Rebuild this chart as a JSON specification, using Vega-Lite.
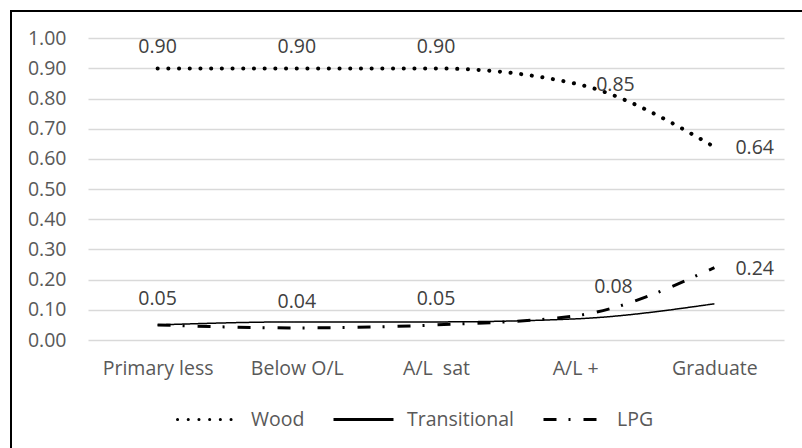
{
  "$schema": "https://vega.github.io/schema/vega-lite/v6.json",
  "width": 795,
  "height": 441,
  "autosize": {"type": "none"},
  "padding": {"left": 11, "top": 11, "right": -4, "bottom": -4},
  "config": {
    "view": {"stroke": "#000000", "strokeWidth": 2},
    "font": "Open Sans"
  },
  "data": {
    "values": [
      {"level": "Primary less", "series": "Wood", "value": 0.90},
      {"level": "Below O/L", "series": "Wood", "value": 0.90},
      {"level": "A/L \u00a0sat", "series": "Wood", "value": 0.90},
      {"level": "A/L +", "series": "Wood", "value": 0.85},
      {"level": "Graduate", "series": "Wood", "value": 0.64},
      {"level": "Primary less", "series": "Transitional", "value": 0.05},
      {"level": "Below O/L", "series": "Transitional", "value": 0.06},
      {"level": "A/L \u00a0sat", "series": "Transitional", "value": 0.06},
      {"level": "A/L +", "series": "Transitional", "value": 0.07},
      {"level": "Graduate", "series": "Transitional", "value": 0.12},
      {"level": "Primary less", "series": "LPG", "value": 0.05},
      {"level": "Below O/L", "series": "LPG", "value": 0.04},
      {"level": "A/L \u00a0sat", "series": "LPG", "value": 0.05},
      {"level": "A/L +", "series": "LPG", "value": 0.08},
      {"level": "Graduate", "series": "LPG", "value": 0.24}
    ]
  },
  "encoding": {
    "x": {
      "field": "level",
      "type": "nominal",
      "sort": ["Primary less", "Below O/L", "A/L \u00a0sat", "A/L +", "Graduate"],
      "scale": {"type": "point", "padding": 0.5, "range": [77, 773]},
      "axis": {
        "title": null,
        "orient": "bottom",
        "offset": -112,
        "domain": false,
        "ticks": false,
        "tickSize": 0,
        "labelPadding": 19,
        "labelAngle": 0,
        "labelFontSize": 19.5,
        "labelColor": "#595959",
        "grid": false
      }
    },
    "y": {
      "field": "value",
      "type": "quantitative",
      "scale": {"domain": [0, 1], "range": [329, 27.3], "nice": false, "zero": false},
      "axis": {
        "title": null,
        "offset": -77,
        "domain": false,
        "ticks": false,
        "tickSize": 0,
        "labelPadding": 22,
        "values": [0, 0.1, 0.2, 0.3, 0.4, 0.5, 0.6, 0.7, 0.8, 0.9, 1.0],
        "format": ".2f",
        "grid": true,
        "gridColor": "#d9d9d9",
        "gridWidth": 1.3,
        "labelFontSize": 19.5,
        "labelColor": "#595959"
      }
    }
  },
  "layer": [
    {
      "transform": [{"filter": "datum.series === 'Wood'"}],
      "mark": {"type": "line", "interpolate": "monotone", "strokeCap": "round", "strokeWidth": 4},
      "encoding": {
        "color": {
          "field": "series", "type": "nominal",
          "scale": {"domain": ["Wood", "Transitional", "LPG"], "range": ["#000000", "#000000", "#000000"]},
          "legend": {
            "orient": "none", "legendX": 165, "legendY": 377, "direction": "horizontal", "title": null,
            "symbolType": "stroke", "symbolSize": 3600, "labelFontSize": 19.5, "labelColor": "#595959",
            "labelOffset": 12, "columnPadding": 22, "symbolStrokeWidth": 3,
            "encode": {"symbols": {"update": {
              "strokeCap": {"signal": "datum.value === 'Wood' ? 'round' : 'butt'"}
            }}}
          }
        },
        "strokeDash": {
          "field": "series", "type": "nominal",
          "scale": {"domain": ["Wood", "Transitional", "LPG"], "range": [[0.1, 10.6], [1, 0], [13, 12, 2, 13]]}
        }
      }
    },
    {
      "transform": [{"filter": "datum.series === 'Transitional'"}],
      "mark": {"type": "line", "interpolate": "monotone", "strokeCap": "butt", "strokeWidth": 1.5},
      "encoding": {
        "color": {"field": "series", "type": "nominal"},
        "strokeDash": {"field": "series", "type": "nominal"}
      }
    },
    {
      "transform": [{"filter": "datum.series === 'LPG'"}],
      "mark": {"type": "line", "interpolate": "monotone", "strokeCap": "butt", "strokeWidth": 3},
      "encoding": {
        "color": {"field": "series", "type": "nominal"},
        "strokeDash": {"field": "series", "type": "nominal"}
      }
    },
    {
      "transform": [{"filter": "datum.series === 'Wood' && (datum.level === 'Primary less' || datum.level === 'Below O/L' || datum.level === 'A/L \u00a0sat')"}],
      "mark": {"type": "text", "align": "center", "baseline": "middle", "dy": -21, "fontSize": 19.5, "color": "#404040"},
      "encoding": {"text": {"field": "value", "type": "quantitative", "format": ".2f"}}
    },
    {
      "transform": [{"filter": "datum.series === 'LPG' && (datum.level === 'Primary less' || datum.level === 'Below O/L' || datum.level === 'A/L \u00a0sat')"}],
      "mark": {"type": "text", "align": "center", "baseline": "middle", "dy": -26, "fontSize": 19.5, "color": "#404040"},
      "encoding": {"text": {"field": "value", "type": "quantitative", "format": ".2f"}}
    },
    {
      "transform": [{"filter": "(datum.series === 'Wood' && (datum.level === 'A/L +' || datum.level === 'Graduate')) || (datum.series === 'LPG' && datum.level === 'Graduate')"}],
      "mark": {"type": "text", "align": "left", "baseline": "middle", "dx": 21, "dy": 1, "fontSize": 19.5, "color": "#404040"},
      "encoding": {"text": {"field": "value", "type": "quantitative", "format": ".2f"}}
    },
    {
      "transform": [{"filter": "datum.series === 'LPG' && datum.level === 'A/L +'"}],
      "mark": {"type": "text", "align": "left", "baseline": "middle", "dx": 19, "dy": -29, "fontSize": 19.5, "color": "#404040"},
      "encoding": {"text": {"field": "value", "type": "quantitative", "format": ".2f"}}
    }
  ]
}
